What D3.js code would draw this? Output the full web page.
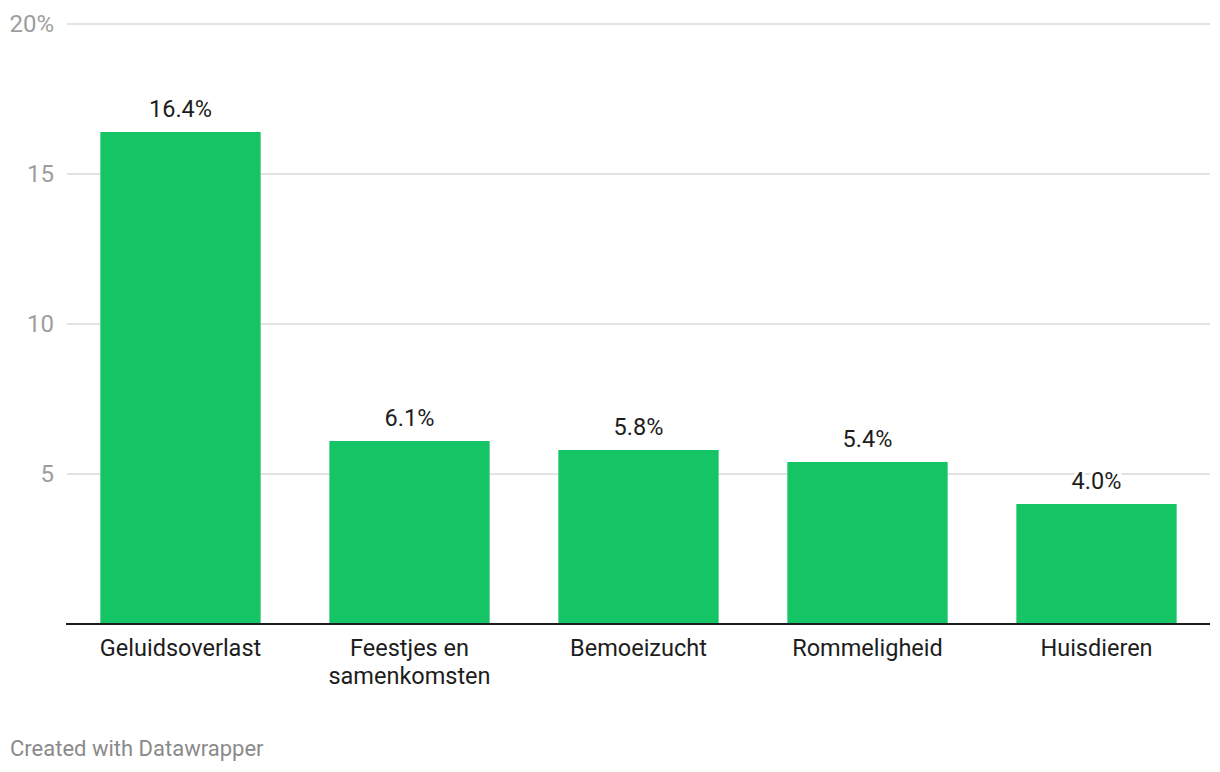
<!DOCTYPE html>
<html><head><meta charset="utf-8">
<script src="https://cdn.jsdelivr.net/npm/d3@7"></script>
<style>
body{margin:0;background:#fff;}
text{font-family:Roboto,"Noto Sans",sans-serif;}
</style></head>
<body>
<svg id="chart" width="1220" height="772"></svg>
<script>
const categories = ["Geluidsoverlast", "Feestjes en samenkomsten", "Bemoeizucht", "Rommeligheid", "Huisdieren"];
const categoryLines = [["Geluidsoverlast"], ["Feestjes en", "samenkomsten"], ["Bemoeizucht"], ["Rommeligheid"], ["Huisdieren"]];
const values = [16.4, 6.1, 5.8, 5.4, 4.0];
const yTicks = [5, 10, 15, 20];
const yTickLabels = ["5", "10", "15", "20%"];

(function() {
const svg = d3.select("#chart");
const mLeft = 66, mRight = 1211, mTop = 24, mBottom = 624;
const x = d3.scaleBand().domain(categories).range([mLeft, mRight]).paddingInner(0.3).paddingOuter(0.15);
const y = d3.scaleLinear().domain([0, 20]).range([mBottom, mTop]);

// gridlines
svg.append("g").selectAll("line").data(yTicks).join("line")
  .attr("x1", mLeft + 1).attr("x2", mRight - 1)
  .attr("y1", d => y(d)).attr("y2", d => y(d))
  .attr("stroke", "#e3e3e3").attr("stroke-width", 2);

// tick labels
svg.append("g").selectAll("text").data(yTicks).join("text")
  .attr("x", 54).attr("y", d => y(d)).attr("dy", "0.35em")
  .attr("text-anchor", "end").attr("font-size", 24).attr("fill", "#9e9e9e")
  .text((d, i) => yTickLabels[i]);

// bars
svg.append("g").selectAll("rect").data(values).join("rect")
  .attr("x", (d, i) => x(categories[i])).attr("width", x.bandwidth())
  .attr("y", d => y(d)).attr("height", d => y(0) - y(d))
  .attr("fill", "#15c464");

// baseline
svg.append("line").attr("x1", mLeft).attr("x2", mRight - 1)
  .attr("y1", y(0)).attr("y2", y(0)).attr("stroke", "#1d1d1d").attr("stroke-width", 2);

// value labels
svg.append("g").selectAll("text").data(values).join("text")
  .attr("x", (d, i) => x(categories[i]) + x.bandwidth() / 2)
  .attr("y", d => y(d) - 15)
  .attr("text-anchor", "middle").attr("font-size", 23.5).attr("fill", "#1d1d1d")
  .attr("stroke", "#fff").attr("stroke-width", 6).attr("paint-order", "stroke")
  .text(d => d.toFixed(1) + "%");

// category labels
const cat = svg.append("g").selectAll("text").data(categories).join("text")
  .attr("x", d => x(d) + x.bandwidth() / 2)
  .attr("y", 656)
  .attr("text-anchor", "middle").attr("font-size", 23.5).attr("fill", "#1d1d1d");
cat.each(function(d, i) {
  d3.select(this).selectAll("tspan").data(categoryLines[i]).join("tspan")
    .attr("x", x(d) + x.bandwidth() / 2)
    .attr("dy", (t, j) => j === 0 ? 0 : 28)
    .text(t => t);
});

// footer
svg.append("text").attr("x", 10).attr("y", 756)
  .attr("font-size", 22).attr("fill", "#8a8a8a").text("Created with Datawrapper");
})();
</script>
</body></html>
